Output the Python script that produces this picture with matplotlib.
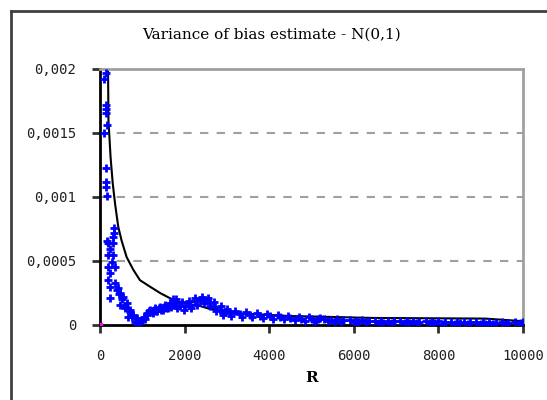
import matplotlib
matplotlib.use('Agg')
import matplotlib.pyplot as plt
from matplotlib.lines import Line2D
from matplotlib.ticker import FuncFormatter

# theoretical curve (black line)
r_line = [190, 200, 250, 300, 355, 430, 510, 630, 790, 945, 1180, 1420, 1650, 1890,
          2100, 2350, 2600, 2850, 3300, 4500, 5200, 6450, 9100, 10000]
v_line = [0.00200, 0.00160, 0.00131, 0.00111, 0.00095, 0.00077, 0.00066, 0.00053,
          0.00043, 0.00035, 0.00030, 0.00025, 0.00021, 0.00018, 0.000165, 0.00015,
          0.000125, 0.00011, 0.00009, 0.00007, 0.000065, 0.000055, 0.00005, 0.00003]

# simulated estimates (blue crosses)
r_pts = [140, 100, 140, 140, 140, 165, 100, 140, 140, 140, 160,
         330, 330, 310, 165, 190, 307, 236, 190, 307, 284, 190, 355, 236, 190,
         236, 355, 236, 425, 473, 544, 638, 709, 780, 875, 946, 1064, 1182, 1300,
         1418, 1537, 1655, 1726, 473, 591, 662, 827, 898, 400, 450, 520, 600, 700,
         760, 1000, 1120, 1250, 1350, 1480, 1600, 1700,
         1773, 1891, 2010, 2128, 2246, 2364, 2482, 2600, 2719, 2837, 2955, 3073,
         3310, 3546, 3782, 4019, 4255, 4492, 4750, 5000, 5300, 5600, 5900, 6200,
         6500, 6800, 7100, 7400, 7700, 8000, 8300, 8600, 8900, 9200, 9500, 9800, 10000,
         1800, 1950, 2100, 2250, 2400, 2550, 2700, 2850, 3000, 3200, 3450, 3700,
         3950, 4200, 4450, 4700, 4950, 5200,
         1830, 1980, 2150, 2300, 2450, 2600, 2750, 2900, 3100, 3350, 3600, 3850,
         4100, 4350, 4600, 4850, 5100, 5400, 5700, 6000, 6300, 6600, 6900, 7200,
         7500, 7800, 8100, 8400, 8700, 9000, 9300, 9600, 9900,
         1040, 1100, 1160, 1220, 1280, 1330, 1400, 1450, 1520, 1570, 1630, 1680,
         5150, 5450, 5750, 6050, 6350, 6650, 6950, 7250, 7550, 7850, 8150, 8450,
         8750, 9050, 9350, 9650, 9950, 5050, 5550, 6100, 6700, 7300, 7900, 8500, 9100]
v_pts = [0.00197, 0.00192, 0.00172, 0.00166, 0.00169, 0.00156, 0.00150, 0.00123,
         0.00112, 0.00108, 0.00101,
         0.00076, 0.00072, 0.00069, 0.00066, 0.00064, 0.00064, 0.00059, 0.00055,
         0.00055, 0.00049, 0.00045, 0.00045, 0.00041, 0.00035, 0.00030, 0.00033,
         0.00021, 0.00029, 0.00025, 0.00022, 0.00017, 0.00012, 0.00008, 0.000055,
         0.00002, 0.00005, 0.00012, 0.00013, 0.00014, 0.000156, 0.00017, 0.00020,
         0.00016, 0.00013, 0.00006, 0.00002, 0.00001, 0.00027, 0.00024, 0.00020,
         0.00015, 0.00010, 0.00006, 0.00004, 0.00008, 0.00009, 0.00011, 0.00012,
         0.00013, 0.00016,
         0.00017, 0.00015, 0.00015, 0.00016, 0.00019, 0.000195, 0.000195, 0.00017,
         0.00014, 0.00012, 0.00010, 0.000094, 0.000086, 0.000078, 0.00007, 0.00007,
         0.000062, 0.000055, 0.00005, 0.000047, 0.000045, 0.000043, 0.00004,
         0.00004, 0.000035, 0.000035, 0.000032, 0.00003, 0.00003, 0.000028,
         0.000026, 0.000025, 0.000025, 0.000023, 0.000022, 0.00002, 0.00002,
         0.00020, 0.00018, 0.00019, 0.00021, 0.00022, 0.00021, 0.00018, 0.000145,
         0.000125, 0.00011, 0.0001, 0.00009, 0.000085, 0.000078, 0.00007,
         0.000065, 0.00006, 0.000055,
         0.00013, 0.00012, 0.00013, 0.00016, 0.00017, 0.00015, 0.00011, 0.00008,
         0.00007, 0.000065, 0.00006, 0.000055, 0.00005, 0.000045, 0.00004,
         0.000035, 0.000032, 0.00003, 0.000025, 0.000022, 0.00002, 0.000018,
         0.000015, 0.000015, 0.000012, 0.000012, 0.00001, 0.00001, 0.000008,
         0.000008, 0.000006, 0.000006, 0.000005,
         0.00006, 0.00009, 0.00011, 0.00010, 0.00012, 0.00011, 0.00013, 0.00012,
         0.00014, 0.00013, 0.00015, 0.00014,
         0.000045, 0.00004, 0.000038, 0.000035, 0.000033, 0.00003, 0.00003,
         0.000028, 0.000026, 0.000025, 0.000023, 0.000022, 0.00002, 0.00002,
         0.000018, 0.000017, 0.000016, 0.000028, 0.000022, 0.00002, 0.000018,
         0.000016, 0.000014, 0.000012, 0.00001]

x_ticks = [0, 2000, 4000, 6000, 8000, 10000]
y_ticks = [0, 0.0005, 0.001, 0.0015, 0.002]

fig = plt.figure(figsize=(5.47, 4.0), dpi=100)
ax = fig.add_axes([100/547, 75/400, 423/547, 256/400])

# outer chart border (left and top edges only, rest is cut off)
fig.lines.append(Line2D([11/547, 11/547], [0, 1 - 11/400], transform=fig.transFigure,
                        color='#404040', lw=2))
fig.lines.append(Line2D([11/547, 1.01], [1 - 11/400, 1 - 11/400], transform=fig.transFigure,
                        color='#404040', lw=2))

for y in y_ticks[1:-1]:
    ax.axhline(y, color='#a0a0a0', lw=1.5, ls=(0, (4, 4)), zorder=0)

ax.plot(r_line, v_line, color='black', lw=1.5, zorder=2)
ax.plot(r_pts, v_pts, ls='none', marker='+', ms=5.5, mew=2, color='#0000ff', zorder=3)
ax.plot([0], [0], ls='none', marker='s', ms=3, color='#ff00ff', zorder=4)

ax.set_xlim(0, 10000)
ax.set_ylim(0, 0.002)
ax.set_xticks(x_ticks)
ax.set_yticks(y_ticks)
ax.xaxis.set_major_formatter(FuncFormatter(lambda v, p: '%d' % v))
ax.yaxis.set_major_formatter(FuncFormatter(lambda v, p: '0' if v == 0 else ('%g' % v).replace('.', ',')))

ax.spines['left'].set_color('black')
ax.spines['bottom'].set_color('black')
ax.spines['top'].set_color('#a0a0a0')
ax.spines['right'].set_color('#a0a0a0')
for s in ax.spines.values():
    s.set_linewidth(2)

ax.tick_params(direction='out', length=6, width=2, color='#303030')
ax.tick_params(axis='y', pad=11)
ax.tick_params(axis='x', pad=11)
for lab in ax.get_xticklabels() + ax.get_yticklabels():
    lab.set_family('DejaVu Sans Mono')
    lab.set_fontsize(10)
    lab.set_color('#202020')

ax.set_xlabel('R', family='DejaVu Serif', fontweight='bold', fontsize=11, labelpad=6)
fig.text(272/547, 1 - 35/400, 'Variance of bias estimate - N(0,1)', ha='center',
         va='center', family='DejaVu Serif', fontsize=11)

fig.savefig('out.png', dpi=100)
